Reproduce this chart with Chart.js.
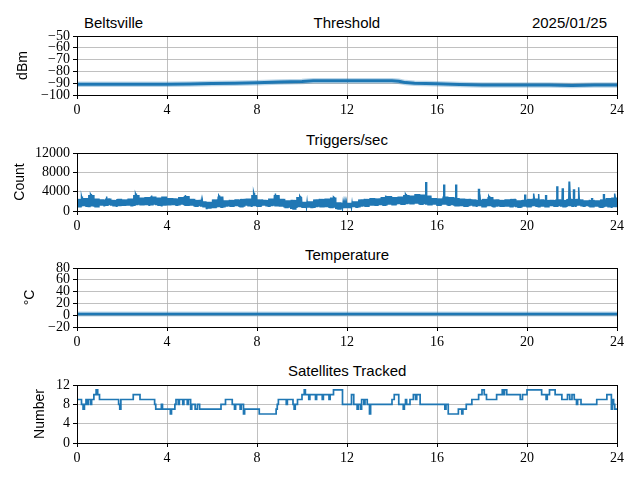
<!DOCTYPE html>
<html><head><meta charset="utf-8">
<script src="https://cdn.jsdelivr.net/npm/chart.js@4.4.1/dist/chart.umd.min.js"></script>
<style>
html,body{margin:0;padding:0;background:#fff;width:640px;height:480px;overflow:hidden;position:relative}
canvas{position:absolute;left:0}
.t{position:absolute;font-family:"Liberation Sans",Arial,sans-serif;font-size:15px;line-height:15px;color:#000;white-space:nowrap}
</style></head>
<body>
<div class="t" style="left:84px;top:14.6px">Beltsville</div>
<div class="t" id="t0" style="top:14.6px">Threshold</div>
<div class="t" style="right:33px;top:14.6px">2025/01/25</div>
<div class="t" id="t1" style="top:131.6px">Triggers/sec</div>
<div class="t" id="t2" style="top:246.6px">Temperature</div>
<div class="t" id="t3" style="top:362.6px">Satellites Tracked</div>
<canvas id="c0"></canvas><canvas id="c1"></canvas><canvas id="c2"></canvas><canvas id="c3"></canvas>
<script>
// ---------- data ----------
const xTicks = [0, 4, 8, 12, 16, 20, 24];

// Threshold (dBm)
const thrHours  = [0, 1, 2, 3, 4, 5, 6, 7, 8, 9, 10, 10.5, 11, 12, 13, 14, 14.3, 14.6, 15, 16, 17, 18, 19, 20, 21, 22, 23, 24];
const thrValues = [-90.8, -90.8, -90.8, -90.8, -90.8, -90.6, -90.2, -90, -89.6, -89, -88.5, -88, -87.9, -87.9, -87.9, -88, -88.3, -89.5, -90, -90.5, -91.2, -91.5, -91.5, -91.5, -91.5, -92, -91.5, -91.5];
const thrTicks = [-100, -90, -80, -70, -60, -50];

// Triggers/sec: envelope per quarter hour (low / high) and isolated spikes
const trigHigh = [2500,2700,3300,2600, 2400,2600,2300,2500, 2400,2600,3300,2800, 2900,3000,2800,3000,
  2700,2600,2900,3100, 2500,2300,2000,1900, 2400,3000,2200,2300, 2400,2500,2600,3300,
  2400,2300,2600,3300, 2500,2200,2300,2900, 1900,2000,2400,2500, 2600,2800,1800,1700,
  1700,2000,2400,2500, 2700,2600,2900,3100, 2900,3000,3300,3200, 3500,3400,3200,2700,
  2600,3000,2900,2700, 2600,2500,2400,2300, 2500,2900,2400,2300, 2400,2500,2200,2300,
  2500,2600,2400,2300, 2300,2400,2300,2500, 2500,2400,2200,2300, 2200,2400,2700,2800];
const trigLow = [900,1000,950,900, 1100,1200,1100,1000, 1200,1100,1200,1300, 1200,1300,1200,1100,
  1300,1200,1300,1200, 1100,1000,900,500, 700,800,900,1000, 1000,900,1100,1000,
  1000,1100,1000,1100, 900,700,400,800, 800,700,800,900, 800,700,400,600,
  700,800,900,1000, 1100,1200,1200,1300, 1300,1400,1400,1500, 1500,1400,1300,1300,
  1200,1300,1200,1100, 1000,1000,1100,1000, 900,1000,900,1000, 900,900,800,900,
  900,1000,900,900, 1000,1000,900,1000, 1000,1100,1000,900, 900,800,900,800];
const spikeHours  = [0.2, 0.6, 1.3, 2.6, 3.3, 4.8, 6.3, 7.85, 8.8, 9.9, 11.4, 13.7, 14.6, 15.5, 16.3, 16.84, 17.84, 18.3, 19.9, 20.28, 20.5, 20.83, 21.33, 21.57, 21.87, 22.06, 22.28, 22.87, 23.4, 23.88];
const spikeValues = [3000, 3500, 3000, 3600, 3200, 3300, 3200, 3800, 3600, 3100, 2900, 3200, 3500, 6000, 5500, 5500, 4600, 3100, 3400, 3600, 3500, 3300, 5100, 4700, 6100, 4500, 4900, 2700, 3500, 3600];
const trigTicks = [0, 4000, 8000, 12000];

// Temperature (°C)
const tempHours  = [0, 2, 4, 6, 8, 10, 12, 14, 16, 18, 20, 22, 24];
const tempValues = [2, 2, 2, 2, 2, 2, 2, 2, 2, 2, 2, 2, 2];
const tempTicks = [-20, 0, 20, 40, 60, 80];

// Satellites tracked (value holds from the given hour until the next one)
const satHours = [0,0.2,0.27,0.33,0.4,0.45,0.5,0.6,0.65,0.75,0.85,0.92,1.0,1.85,1.9,1.95,2.5,2.8,3.45,3.5,3.75,3.8,4.15,4.2,4.35,4.4,4.5,4.55,4.7,4.75,4.9,4.95,5.05,5.1,5.25,5.35,5.45,
  6.4,6.6,6.9,7.0,7.05,7.25,7.3,7.4,7.45,8.1,8.85,8.9,8.95,9.3,9.35,9.6,9.65,9.7,9.8,10.0,10.1,10.15,10.3,10.35,10.6,10.65,10.9,10.95,11.2,11.25,11.4,11.8,
  12.2,12.3,12.45,12.5,12.6,12.65,12.75,12.8,12.9,13.0,13.05,14.0,14.1,14.3,14.5,14.55,14.6,14.65,14.8,14.95,15.05,15.1,15.25,16.35,16.4,16.5,16.95,17.1,17.15,17.3,17.55,17.85,
  18.0,18.1,18.2,18.65,18.9,18.95,19.0,19.1,19.7,19.8,20.0,20.65,20.85,20.9,21.0,21.25,21.55,21.8,21.9,22.0,22.1,22.2,22.25,22.4,23.1,23.55,23.75,23.8,23.85,23.9,24];
const satValues = [9,8,7,8,9,8,9,8,9,10,11,10,9,8,7,9,10,9,8,7,8,7,6,7,8,9,8,9,8,9,8,9,7,8,7,8,7,
  8,9,8,7,8,7,8,6,7,6,7,8,9,8,9,8,7,8,9,10,11,10,9,10,9,10,9,10,9,10,11,8,
  10,8,7,8,7,9,8,9,8,6,8,9,10,8,7,8,9,8,9,10,9,10,8,7,8,6,7,6,7,8,9,10,
  11,10,9,10,11,10,11,10,9,10,11,10,9,10,11,10,9,10,9,10,9,8,9,8,9,10,7,9,8,7,7];
const satTicks = [0, 4, 8, 12];

// ---------- drawing ----------
const BLUE = '#1f77b4';
const fmt = v => (v < 0 ? '\u2212' + Math.abs(v) : String(v));

function pairs(xs, ys){ return xs.map((x, i) => ({x, y: ys[i]})); }
function triggerSeries(){
  const pts = [];
  for (let i = 0; i < trigHigh.length; i++){
    for (let k = 0; k < 10; k++){
      pts.push({x: i*0.25 + k*0.025, y: (k % 2) ? trigHigh[i] : trigLow[i]});
    }
  }
  pts.push({x: 24, y: trigLow[trigLow.length-1]});
  spikeHours.forEach((h, i) => { pts.push({x: h, y: spikeValues[i]}); pts.push({x: h + 0.03, y: spikeValues[i]}); });
  pts.sort((a, b) => a.x - b.x);
  return pts;
}

const frame = {
  id: 'frame',
  afterDraw(chart){
    const {ctx, chartArea: a} = chart;
    ctx.save(); ctx.strokeStyle = '#000'; ctx.lineWidth = 1;
    ctx.strokeRect(Math.round(a.left)+0.5, Math.round(a.top)+0.5, Math.round(a.right-a.left), Math.round(a.bottom-a.top));
    ctx.restore();
  }
};

const panels = [
  {top:36, bottom:95, data: pairs(thrHours, thrValues), width:3, ticks: thrTicks, label:'dBm', lpad:15, stepped:false, halo:true},
  {top:153, bottom:211, data: triggerSeries(), width:1.5, ticks: trigTicks, label:'Count', lpad:12, stepped:false},
  {top:268, bottom:327, data: pairs(tempHours, tempValues), width:2.5, ticks: tempTicks, label:'\u00B0C', lpad:21.5, stepped:false, halo:true},
  {top:385, bottom:443, data: pairs(satHours, satValues), width:1.7, ticks: satTicks, label:'Number', lpad:31.5, stepped:'before'}
];

const PADTOP = 12, XAXH = 30;
panels.forEach((p, idx) => {
  const cv = document.getElementById('c'+idx);
  const h = (p.bottom - p.top) + PADTOP + XAXH;
  cv.width = 640; cv.height = h;
  cv.style.top = (p.top - PADTOP) + 'px';
  const tt = document.getElementById('t'+idx);
  tt.style.left = (347 - tt.offsetWidth/2) + 'px';
  const ymin = p.ticks[0], ymax = p.ticks[p.ticks.length-1];
  const datasets = [];
  if (p.halo) datasets.push({ data: p.data, borderColor: 'rgba(31,119,180,0.3)', borderWidth: p.width + 2.5, pointRadius: 0, fill: false, tension: 0 });
  datasets.push({ data: p.data, borderColor: BLUE, borderWidth: p.width, pointRadius: 0, fill: false, tension: 0, stepped: p.stepped });
  new Chart(cv, {
    type: 'line',
    data: { datasets },
    options: {
      responsive: false, animation: false, devicePixelRatio: 1,
      layout: { padding: { top: PADTOP, right: 23, left: 0, bottom: 0 } },
      plugins: { legend: { display: false }, tooltip: { enabled: false } },
      scales: {
        x: {
          type: 'linear', min: 0, max: 24,
          afterBuildTicks: s => { s.ticks = xTicks.map(v => ({value: v})); },
          afterFit: s => { s.height = XAXH; },
          grid: { color: '#b0b0b0', lineWidth: 0.8, tickColor: '#000', tickLength: 4, tickWidth: 1 },
          border: { color: '#000', width: 1 },
          ticks: { color: '#000', padding: 3, maxRotation: 0, autoSkip: false, font: { family: '"Liberation Serif", serif', size: 14 } }
        },
        y: {
          min: ymin, max: ymax,
          afterBuildTicks: s => { s.ticks = p.ticks.map(v => ({value: v})); },
          afterFit: s => { s.width = 77; },
          grid: { color: '#b0b0b0', lineWidth: 0.8, tickColor: '#000', tickLength: 4, tickWidth: 1 },
          border: { color: '#000', width: 1 },
          ticks: { color: '#000', padding: 3, autoSkip: false, callback: v => fmt(v), font: { family: '"Liberation Serif", serif', size: 14, lineHeight: 1 } },
          title: { display: true, text: p.label, color: '#000', padding: { top: p.lpad, bottom: 0 }, font: { family: '"Liberation Sans", sans-serif', size: 14 } }
        }
      }
    },
    plugins: [frame]
  });
});
</script>
</body></html>
